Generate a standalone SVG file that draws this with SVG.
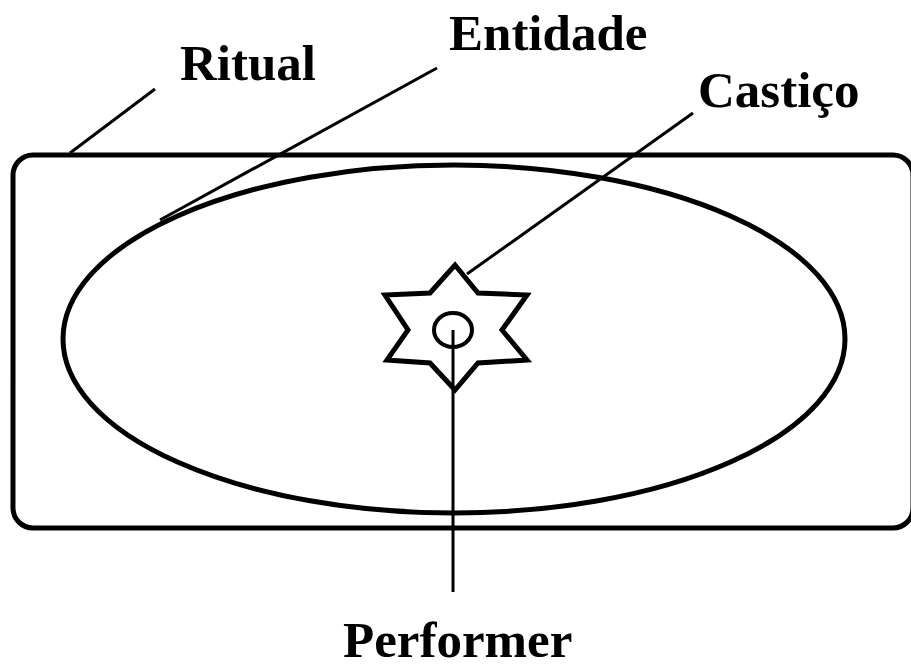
<svg xmlns="http://www.w3.org/2000/svg" width="911" height="670" viewBox="0 0 911 670">
<style>
.lbl{font-family:"Liberation Serif",serif;font-weight:bold;font-size:51px;fill:#000}
.shape{fill:none;stroke:#000;stroke-width:5}
.conn{fill:none;stroke:#000;stroke-width:3}
</style>
<rect width="911" height="670" fill="#fff"/>
<g id="ritual">
<rect class="shape" x="13" y="155" width="900" height="373" rx="20"/>
<text class="lbl" x="180" y="80">Ritual</text>
</g>
<g id="entidade">
<ellipse class="shape" cx="454" cy="339" rx="391" ry="174"/>
<text class="lbl" x="449" y="50">Entidade</text>
</g>
<g id="castico">
<polygon class="shape" stroke-linejoin="miter" points="455,265 478,293 527,295 502,330 527,360 478,363 455,390 430,363 387,360 408,330 385,295 430,293"/>
<text class="lbl" x="698" y="107">Castiço</text>
</g>
<g id="performer">
<ellipse cx="453" cy="330" rx="19" ry="17" fill="none" stroke="#000" stroke-width="4"/>
<text class="lbl" x="343" y="657">Performer</text>
</g>
<g id="connectors">
<line class="conn" x1="155" y1="89" x2="70" y2="153"/>
<line class="conn" x1="437" y1="68" x2="160" y2="220"/>
<line class="conn" x1="693" y1="113" x2="467" y2="274"/>
<line class="conn" x1="453" y1="330" x2="453" y2="592"/>
</g>
</svg>
